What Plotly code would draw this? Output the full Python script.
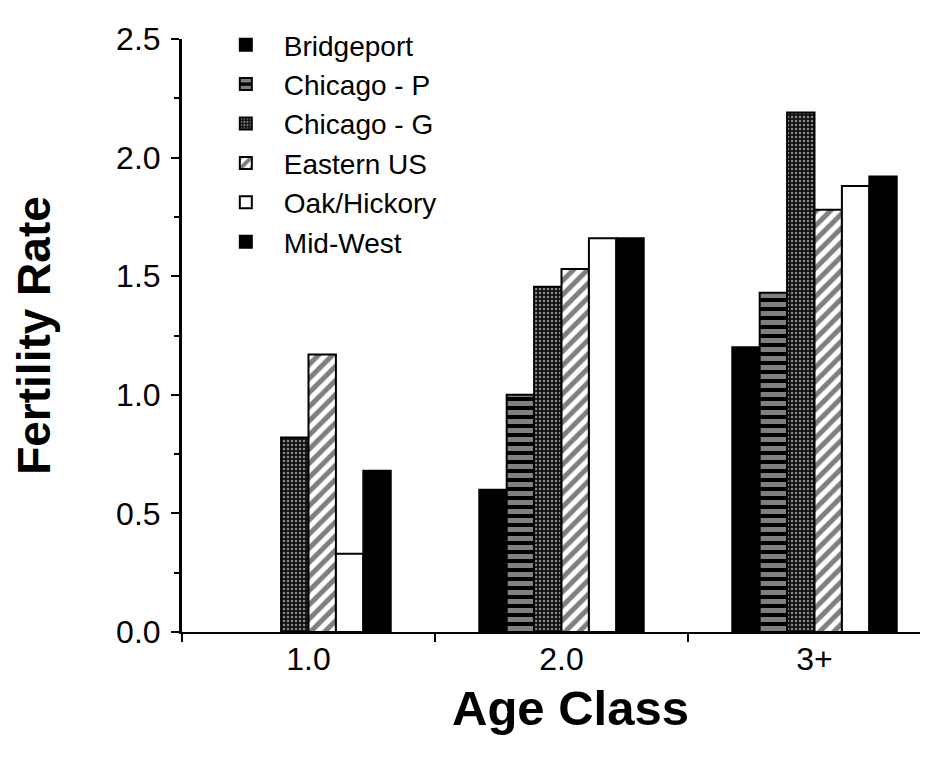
import plotly.graph_objects as go

categories = ["1.0", "2.0", "3+"]
series_names = ["Bridgeport", "Chicago - P", "Chicago - G", "Eastern US", "Oak/Hickory", "Mid-West"]
bridgeport = [None, 0.60, 1.20]
chicago_p = [None, 1.00, 1.43]
chicago_g = [0.82, 1.455, 2.19]
eastern_us = [1.17, 1.53, 1.78]
oak_hickory = [0.33, 1.66, 1.88]
mid_west = [0.68, 1.66, 1.92]
y_ticks = [0.0, 0.5, 1.0, 1.5, 2.0, 2.5]
y_tick_labels = ["0.0", "0.5", "1.0", "1.5", "2.0", "2.5"]

values = [bridgeport, chicago_p, chicago_g, eastern_us, oak_hickory, mid_west]

styles = [
    dict(color="black", pattern=dict(shape="")),
    dict(color="black", pattern=dict(shape="-", fgcolor="white", bgcolor="black", size=9, solidity=0.55)),
    dict(color="black", pattern=dict(shape=".", fgcolor="white", bgcolor="#111", size=4, solidity=0.3)),
    dict(color="white", pattern=dict(shape="/", fgcolor="black", bgcolor="white", size=10, solidity=0.5)),
    dict(color="white", pattern=dict(shape="")),
    dict(color="black", pattern=dict(shape="")),
]

fig = go.Figure()
for name, vals, st in zip(series_names, values, styles):
    fig.add_trace(go.Bar(
        x=categories, y=vals, name=name, legendgroup=name,
        marker=dict(color=st["color"], pattern=st["pattern"],
                    line=dict(color="black", width=2)),
    ))

font_family = "Liberation Sans, Arial, Helvetica, sans-serif"

fig.update_layout(
    width=932, height=760,
    margin=dict(l=174, r=20, t=14, b=136),
    paper_bgcolor="white", plot_bgcolor="white",
    barmode="group", bargap=0.35, bargroupgap=0,
    font=dict(family=font_family, color="black"),
    showlegend=True,
    legend=dict(x=0.035, y=1.032, xanchor="left", yanchor="top",
                bgcolor="rgba(0,0,0,0)", font=dict(size=28, family=font_family),
                tracegroupgap=0, itemwidth=66),
    xaxis=dict(
        type="category", range=[-0.5, 2.417],
        showline=True, linecolor="black", linewidth=2,
        ticks="outside", tickson="boundaries", ticklen=8, tickwidth=2, tickcolor="black",
        tickfont=dict(size=32, family=font_family), ticklabelstandoff=-2,
        showgrid=False, zeroline=False,
    ),
    yaxis=dict(
        range=[0, 2.5], tickvals=y_ticks, ticktext=y_tick_labels,
        showline=True, linecolor="black", linewidth=3,
        ticks="outside", ticklen=8, tickwidth=2, tickcolor="black",
        ticklabeloverflow="allow",
        minor=dict(dtick=0.25, ticks="outside", ticklen=5, tickwidth=2, tickcolor="black", showgrid=False),
        tickfont=dict(size=32, family=font_family), ticklabelstandoff=4,
        title=dict(text="<b>Fertility Rate</b>", font=dict(size=46, family=font_family), standoff=52),
        showgrid=False, zeroline=False,
    ),
    annotations=[dict(
        text="<b>Age Class</b>", xref="paper", yref="paper",
        x=0.527, y=-0.128, xanchor="center", yanchor="middle",
        showarrow=False, font=dict(size=49, family=font_family, color="black"),
    )],
)

fig.write_html("out.html")
